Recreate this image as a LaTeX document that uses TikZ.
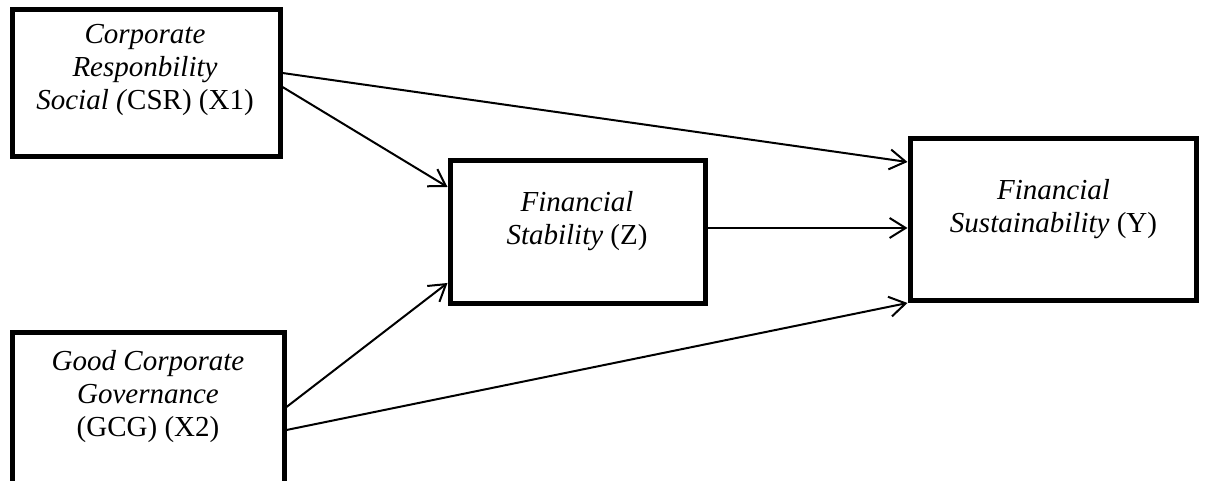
\documentclass[tikz,border=0pt]{standalone}
\usepackage{fontspec}
\setmainfont{Liberation Serif}
\usetikzlibrary{positioning,arrows.meta}

\tikzstyle{varbox} = [rectangle, draw, line width=5pt, inner sep=0pt]
\tikzstyle{vartext} = [align=center, inner sep=0pt, anchor=base, font=\fontsize{29}{33}\selectfont]

\begin{document}
\begin{tikzpicture}[x=1pt, y=1pt]
  \tikzset{link/.style={line width=2pt, -{Straight Barb[length=16pt,width=20pt]}}}
  \useasboundingbox (0,0) rectangle (1208,481);

  % variables
  \node (csr) [varbox, minimum width=268pt, minimum height=147pt] at (146,397.5) {};
  \node (gcg) [varbox, minimum width=272pt, minimum height=153pt] at (148,71.5) {};
  \node (stab) [varbox, minimum width=255pt, minimum height=143pt] at (577.5,248.5) {};
  \node (sust) [varbox, minimum width=286pt, minimum height=162pt] at (1053,261) {};

  \node (csrtxt) [vartext] at (145,371) {\textit{Corporate}\\\textit{Responbility}\\\textit{Social (}CSR) (X1)};
  \node (gcgtxt) [vartext] at (148,44) {\textit{Good Corporate}\\\textit{Governance}\\(GCG) (X2)};
  \node (stabtxt) [vartext] at (577,236) {\textit{Financial}\\\textit{Stability} (Z)};
  \node (susttxt) [vartext] at (1053.5,248) {\textit{Financial}\\\textit{Sustainability} (Y)};

  % paths
  \draw[link] ([yshift=10.5pt]csr.east) -- ([yshift=58pt]sust.west);
  \draw[link] ([yshift=-3.5pt]csr.east) -- ([yshift=45.5pt]stab.west);
  \draw[link] ([yshift=2.5pt]gcg.east) -- ([yshift=-50.5pt]stab.west);
  \draw[link] ([yshift=-20.5pt]gcg.east) -- ([yshift=-83pt]sust.west);
  \draw[link] ([yshift=4.5pt]stab.east) -- ([yshift=4.5pt]stab.east -| sust.west);
\end{tikzpicture}
\end{document}
